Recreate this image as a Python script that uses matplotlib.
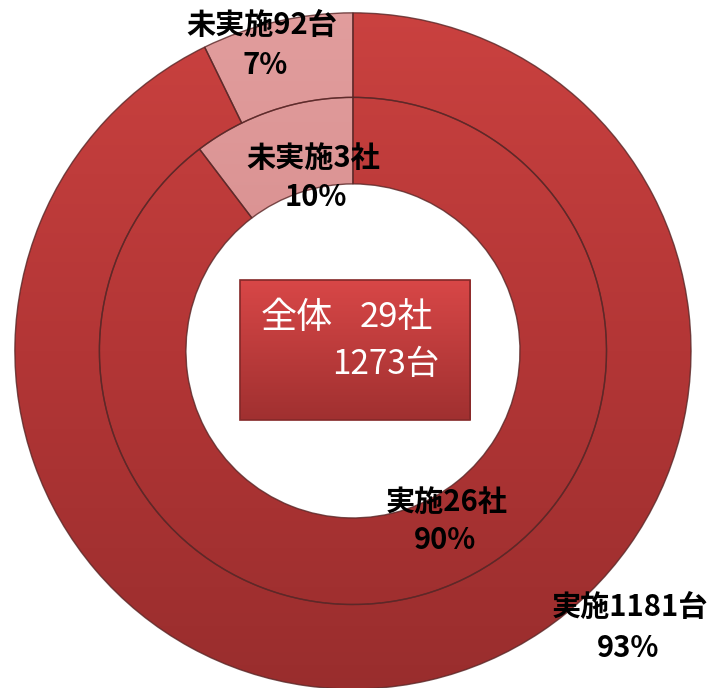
import numpy as np
import matplotlib.pyplot as plt
from matplotlib.patches import Rectangle
from matplotlib.colors import LinearSegmentedColormap

plt.rcParams['font.family'] = ['Noto Sans CJK JP', 'DejaVu Sans']

# data
outer_labels = ['実施1181台', '未実施92台']
outer_values = [1181, 92]
outer_pct = ['93%', '7%']
inner_labels = ['実施26社', '未実施3社']
inner_values = [26, 3]
inner_pct = ['90%', '10%']
total_text = ['全体', '29社', '1273台']

red_cmap = LinearSegmentedColormap.from_list('r', ['#982D2D', '#B33636', '#CB4240'])
pink_cmap = LinearSegmentedColormap.from_list('p', ['#CB7C7C', '#E29E9E'])
box_cmap = LinearSegmentedColormap.from_list('b', ['#A03030', '#D84747'])

fig = plt.figure(figsize=(7.13, 6.88), dpi=100)
ax = fig.add_axes([0, 0, 1, 1])
grad = np.linspace(0, 1, 256).reshape(-1, 1)

def ring(values, radius, width):
    wedges, _ = ax.pie(values, radius=radius, startangle=90, counterclock=False,
                       colors=['none', 'none'],
                       wedgeprops=dict(width=width, edgecolor=(0.35, 0.15, 0.15, 0.8),
                                       linewidth=1.0))
    for w, cm in zip(wedges, [red_cmap, pink_cmap]):
        w.set_zorder(2)
        im = ax.imshow(grad, extent=(-1.05, 1.05, -1.05, 1.05), origin='lower',
                       cmap=cm, aspect='auto', zorder=1)
        im.set_clip_path(w)
    return wedges

ring(outer_values, 1.0, 0.25)
ring(inner_values, 0.75, 0.256)

# center box with vertical gradient
box_ext = (-0.334, 0.347, -0.204, 0.210)
ax.imshow(grad, extent=box_ext, origin='lower', cmap=box_cmap, aspect='auto', zorder=3)
ax.add_patch(Rectangle((box_ext[0], box_ext[2]), box_ext[1] - box_ext[0],
                       box_ext[3] - box_ext[2], fill=False, edgecolor='#842828',
                       linewidth=1.2, zorder=4))
ax.text(-0.272, 0.098, total_text[0], color='white', fontsize=26,
        ha='left', va='center', zorder=5)
ax.text(0.236, 0.098, total_text[1], color='white', fontsize=25,
        ha='right', va='center', zorder=5)
ax.text(0.257, -0.041, total_text[2], color='white', fontsize=24,
        ha='right', va='center', zorder=5)

# ring labels: (label xy, percent xy)
pos_outer = [((0.82, -0.757), (0.814, -0.879)), ((-0.269, 0.964), (-0.26, 0.846))]
pos_inner = [((0.278, -0.447), (0.272, -0.559)), ((-0.118, 0.571), (-0.109, 0.456))]
for (p1, p2), lab, p in zip(pos_outer + pos_inner, outer_labels + inner_labels,
                            outer_pct + inner_pct):
    ax.text(*p1, lab, ha='center', va='center', fontsize=21, fontweight='bold', zorder=6)
    ax.text(*p2, p, ha='center', va='center', fontsize=21, fontweight='bold', zorder=6)

ax.set_xlim(-1.044, 1.065)
ax.set_ylim(-0.997, 1.038)
ax.set_aspect('equal')
ax.axis('off')

fig.savefig('out.png', dpi=100)
